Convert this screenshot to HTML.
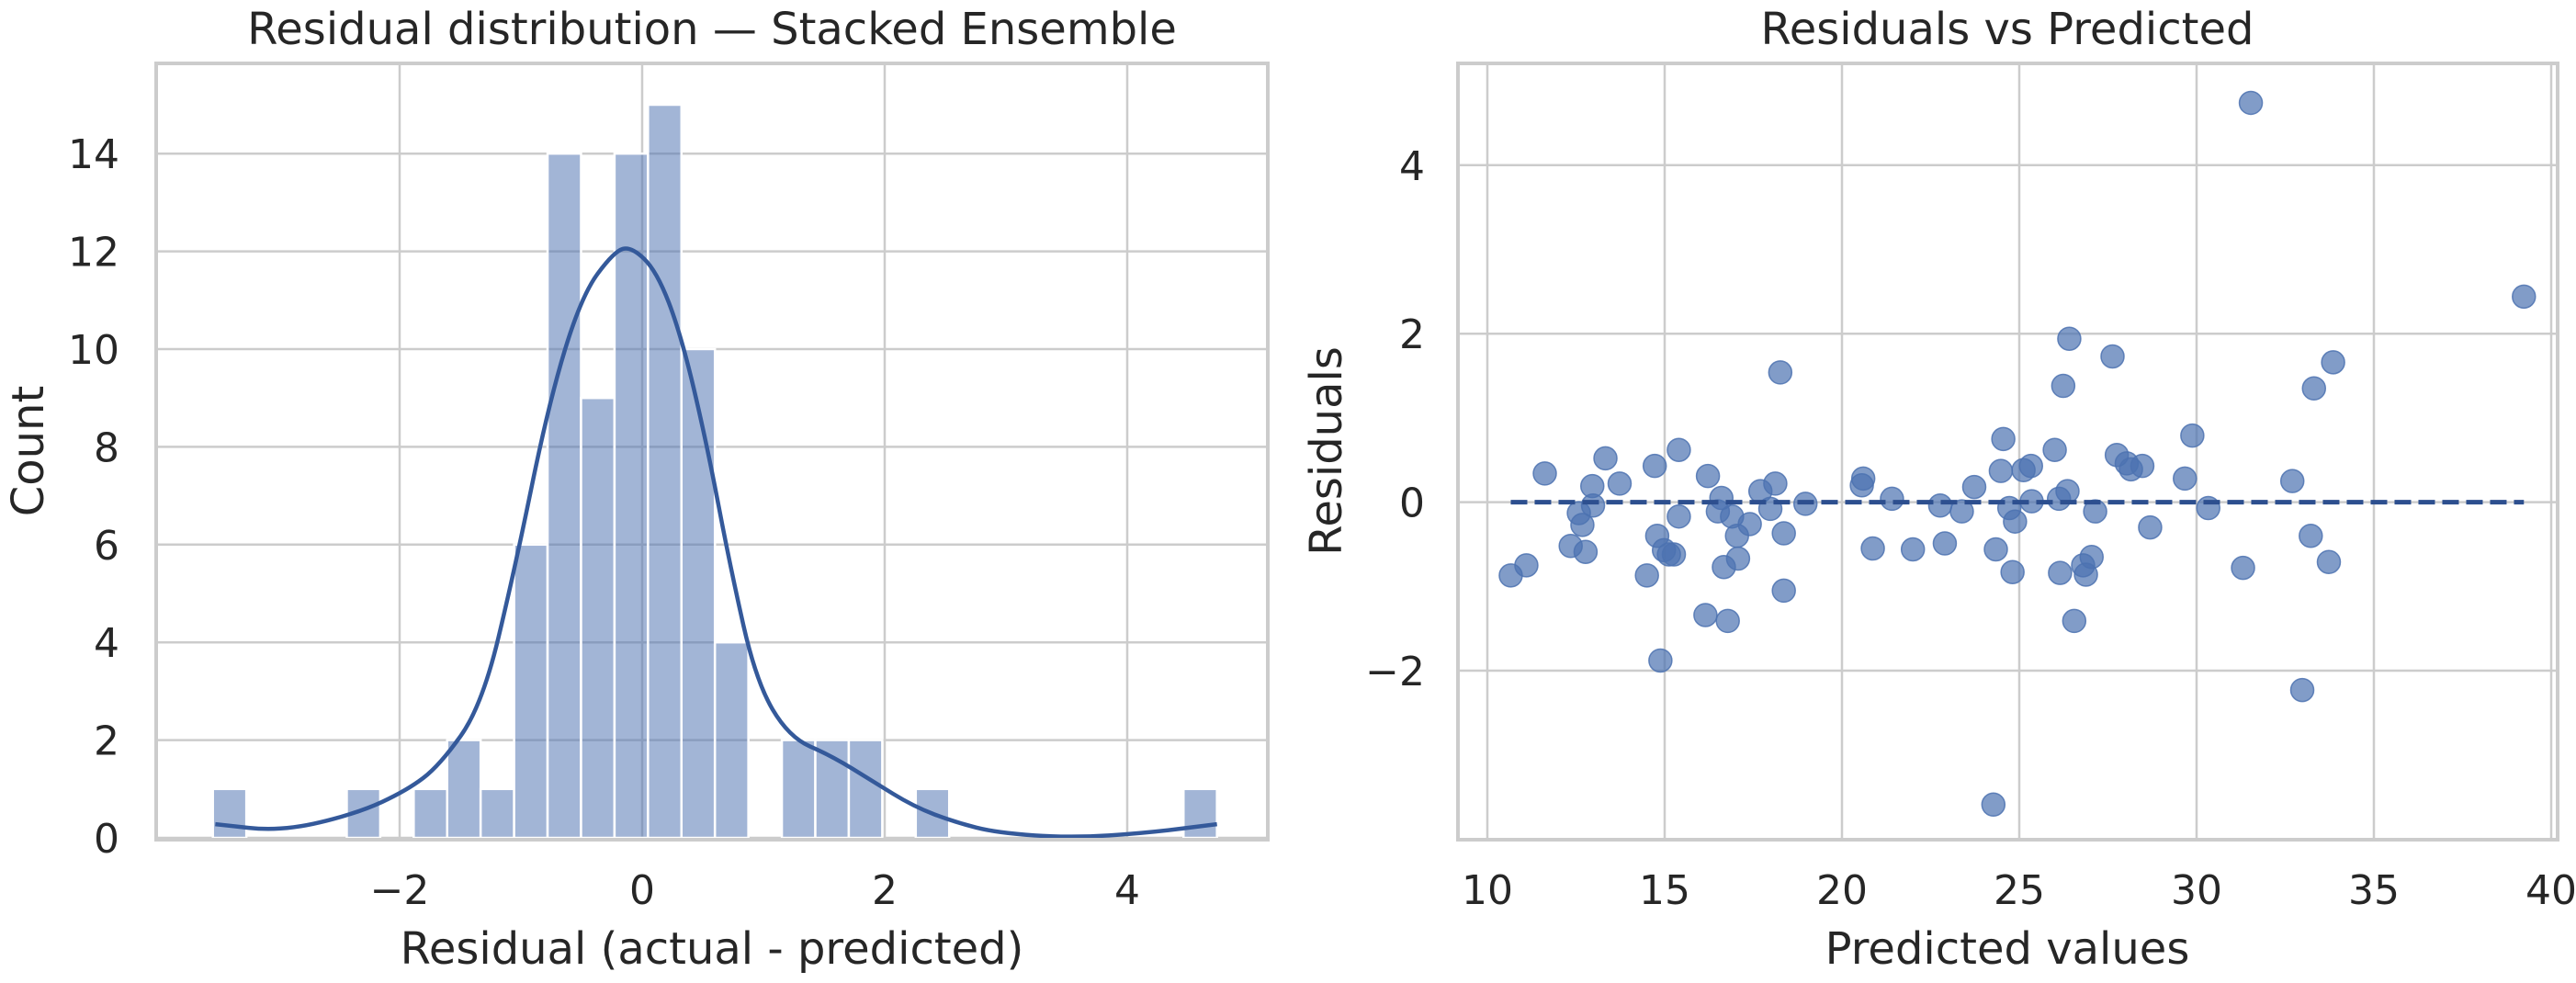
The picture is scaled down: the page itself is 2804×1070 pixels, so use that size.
<!DOCTYPE html>
<html><head><meta charset="utf-8"><style>
html,body{margin:0;padding:0;background:#fff;}
svg{display:block;font-family:"DejaVu Sans","Liberation Sans",sans-serif;}
</style></head><body>
<svg id="c" width="2804" height="1070" viewBox="0 0 2804 1070" xmlns="http://www.w3.org/2000/svg">
<g id="left"></g>
<g id="right"></g>
</svg>
<script>
// ---- Histogram data ----
const binStart = -3.54;
const binEnd = 4.74;
const binCounts = [1,0,0,0,1,0,1,2,1,6,14,9,14,15,10,4,0,2,2,2,0,1,0,0,0,0,0,0,0,1];
const kdeX = [-3.52,-2.97,-2.35,-1.94,-1.67,-1.32,-1.05,-0.77,-0.5,-0.23,-0.09,0.12,0.32,0.53,0.73,0.94,1.21,1.56,1.9,2.24,2.58,2.93,3.54,4.16,4.74];
const kdeY = [0.28,0.13,0.5,0.97,1.48,2.7,5.5,8.9,11.1,12.0,12.1,11.6,10.3,8.1,5.5,3.2,2.06,1.68,1.16,0.64,0.32,0.1,0.0,0.1,0.28];
const histXTicks = [-2,0,2,4];
const histXTickLabels = ["\u22122","0","2","4"];
const histYTicks = [0,2,4,6,8,10,12,14];
// ---- Scatter data ----
const predicted = [10.66,11.1,11.62,12.35,12.58,12.68,12.77,12.96,12.98,13.33,13.73,14.5,14.72,14.79,14.88,14.98,15.12,15.26,15.4,15.4,16.15,16.22,16.5,16.6,16.67,16.78,16.9,17.04,17.07,17.4,17.7,17.98,18.12,18.26,18.36,18.36,18.97,20.56,20.6,20.87,21.41,22.0,22.77,22.9,23.38,23.73,24.27,24.34,24.48,24.55,24.72,24.81,24.88,25.12,25.33,25.35,26.0,26.12,26.15,26.24,26.36,26.41,26.55,26.8,26.88,27.04,27.14,27.63,27.75,28.03,28.15,28.47,28.69,29.67,29.88,30.33,31.31,31.53,32.7,32.98,33.22,33.31,33.73,33.85,39.23];
const residuals = [-0.87,-0.75,0.34,-0.52,-0.13,-0.27,-0.59,0.19,-0.04,0.52,0.22,-0.87,0.43,-0.40,-1.88,-0.57,-0.62,-0.62,-0.17,0.62,-1.34,0.31,-0.11,0.05,-0.77,-1.41,-0.17,-0.40,-0.67,-0.26,0.13,-0.08,0.22,1.54,-0.37,-1.05,-0.02,0.2,0.28,-0.55,0.04,-0.56,-0.04,-0.49,-0.11,0.18,-3.59,-0.56,0.37,0.75,-0.07,-0.83,-0.23,0.38,0.43,0.01,0.62,0.04,-0.84,1.38,0.13,1.94,-1.41,-0.75,-0.86,-0.65,-0.11,1.73,0.56,0.46,0.39,0.43,-0.3,0.28,0.79,-0.07,-0.78,4.74,0.25,-2.23,-0.40,1.35,-0.71,1.66,2.44];
const scXTicks = [10,15,20,25,30,35,40];
const scYTicks = [-2,0,2,4];
const scYTickLabels = ["\u22122","0","2","4"];

const NS = "http://www.w3.org/2000/svg";
function mk(parent, tag, attrs, text){
  const e = document.createElementNS(NS, tag);
  for (const k in attrs) e.setAttribute(k, attrs[k]);
  if (text !== undefined) e.textContent = text;
  parent.appendChild(e);
  return e;
}
const TXT = "#262626", GRID = "#cccccc";
const TICK = 44, LAB = 48, TTL = 48;

// ---------- Left panel ----------
const L = document.getElementById('left');
const lx0 = 170, lx1 = 1380, ly0 = 69, ly1 = 914;
const hx = v => 699 + v * 132;
const hy = v => 912 - v * 53.2;
for (let i = 0; i < histXTicks.length; i++) {
  const x = hx(histXTicks[i]);
  let g = mk(L, 'line', {x1:x, x2:x, y1:ly0, y2:ly1, stroke:GRID, 'stroke-width':2.5});
  
  
  let t = mk(L, 'text', {x:x, y:984, 'text-anchor':'middle', 'font-size':TICK, fill:TXT}, histXTickLabels[i]);
  
  
}
for (const v of histYTicks) {
  const y = hy(v);
  let g = mk(L, 'line', {x1:lx0, x2:lx1, y1:y, y2:y, stroke:GRID, 'stroke-width':2.5});
  
  
  let t = mk(L, 'text', {x:130, y:y + 16, 'text-anchor':'end', 'font-size':TICK, fill:TXT}, String(v));
  
  
}
const bw = (binEnd - binStart) / binCounts.length;
for (let i = 0; i < binCounts.length; i++) {
  if (!binCounts[i]) continue;
  const xa = hx(binStart + i * bw), xb = hx(binStart + (i + 1) * bw);
  let r = mk(L, 'rect', {x:xa, y:hy(binCounts[i]), width:xb - xa, height:hy(0) - hy(binCounts[i]), fill:'rgba(76,114,176,0.52)', stroke:'#fff', 'stroke-width':2.5});
  
  
}
let d = '';
for (let i = 0; i < kdeX.length; i++) {
  const x = hx(kdeX[i]), y = hy(kdeY[i]);
  if (i === 0) d += 'M' + x + ' ' + y;
  else {
    const xp = hx(kdeX[i-1]), yp = hy(kdeY[i-1]);
    const xm = (xp + x) / 2;
    d += ' Q' + xp + ' ' + yp + ' ' + xm + ' ' + ((yp + y) / 2);
  }
}
d += ' L' + hx(kdeX[kdeX.length-1]) + ' ' + hy(kdeY[kdeY.length-1]);
let kde = mk(L, 'path', {d:d, fill:'none', stroke:'#34599a', 'stroke-width':4.5, 'stroke-linejoin':'round'});


let fr = mk(L, 'rect', {x:lx0, y:ly0, width:lx1 - lx0, height:ly1 - ly0, fill:'none', stroke:GRID, 'stroke-width':4});


let t1 = mk(L, 'text', {x:775, y:48, 'text-anchor':'middle', 'font-size':TTL, fill:TXT}, 'Residual distribution \u2014 Stacked Ensemble');


let xl = mk(L, 'text', {x:775, y:1049, 'text-anchor':'middle', 'font-size':LAB, fill:TXT}, 'Residual (actual - predicted)');


let yl = mk(L, 'text', {x:0, y:0, transform:'translate(47,491) rotate(-90)', 'text-anchor':'middle', 'font-size':LAB, fill:TXT}, 'Count');



// ---------- Right panel ----------
const R = document.getElementById('right');
const rx0 = 1587, rx1 = 2784, ry0 = 69, ry1 = 914;
const sx = v => 1619 + (v - 10) * 38.6;
const sy = v => 546.6 - v * 91.7;
for (const v of scXTicks) {
  const x = sx(v);
  let g = mk(R, 'line', {x1:x, x2:x, y1:ry0, y2:ry1, stroke:GRID, 'stroke-width':2.5});
  
  
  let t = mk(R, 'text', {x:x, y:984, 'text-anchor':'middle', 'font-size':TICK, fill:TXT}, String(v));
  
  
}
for (let i = 0; i < scYTicks.length; i++) {
  const y = sy(scYTicks[i]);
  let g = mk(R, 'line', {x1:rx0, x2:rx1, y1:y, y2:y, stroke:GRID, 'stroke-width':2.5});
  
  
  let t = mk(R, 'text', {x:1551, y:y + 16, 'text-anchor':'end', 'font-size':TICK, fill:TXT}, scYTickLabels[i]);
  
  
}
for (let i = 0; i < predicted.length; i++) {
  let c = mk(R, 'circle', {cx:sx(predicted[i]), cy:sy(residuals[i]), r:12.5, fill:'rgba(76,114,176,0.7)', stroke:'rgba(76,114,176,0.85)', 'stroke-width':1.5});
  
  
}
const pmin = Math.min(...predicted), pmax = Math.max(...predicted);
let zl = mk(R, 'line', {x1:sx(pmin), x2:sx(pmax), y1:sy(0), y2:sy(0), stroke:'#2d4f8f', 'stroke-width':5, 'stroke-dasharray':'18 8'});


let fr2 = mk(R, 'rect', {x:rx0, y:ry0, width:rx1 - rx0, height:ry1 - ry0, fill:'none', stroke:GRID, 'stroke-width':4});


let t2 = mk(R, 'text', {x:2185, y:48, 'text-anchor':'middle', 'font-size':TTL, fill:TXT}, 'Residuals vs Predicted');


let xl2 = mk(R, 'text', {x:2185, y:1049, 'text-anchor':'middle', 'font-size':LAB, fill:TXT}, 'Predicted values');


let yl2 = mk(R, 'text', {x:0, y:0, transform:'translate(1460,491) rotate(-90)', 'text-anchor':'middle', 'font-size':LAB, fill:TXT}, 'Residuals');


</script>
</body></html>
